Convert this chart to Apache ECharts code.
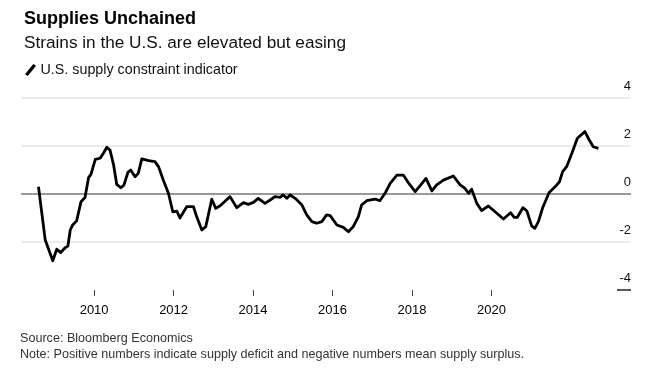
<!DOCTYPE html>
<html>
<head>
<meta charset="utf-8">
<script src="https://cdn.jsdelivr.net/npm/echarts@6/dist/echarts.min.js"></script>
<style>
html,body{margin:0;padding:0;background:#fff;}
#c{width:664px;height:379px;}
</style>
</head>
<body>
<div id="c"></div>
<script>
// Decimal-year dates and indicator values
const dates = [2008.60,2008.77,2008.96,2009.06,2009.16,2009.27,2009.34,2009.40,2009.46,2009.56,2009.67,2009.77,2009.86,2009.92,
2010.03,2010.15,2010.23,2010.32,2010.40,2010.49,2010.57,2010.67,2010.75,2010.85,2010.92,2011.03,2011.11,2011.20,2011.37,2011.53,2011.62,2011.74,2011.87,2011.98,
2012.08,2012.16,2012.33,2012.50,2012.58,2012.71,2012.81,2012.96,2013.06,2013.17,2013.28,2013.42,2013.59,2013.76,2013.88,
2014.01,2014.13,2014.30,2014.43,2014.55,2014.68,2014.76,2014.85,2014.93,2015.06,2015.23,2015.35,2015.48,2015.60,2015.73,2015.85,2015.94,
2016.11,2016.27,2016.40,2016.52,2016.65,2016.73,2016.86,2017.07,2017.19,2017.32,2017.45,2017.62,2017.78,2017.92,
2018.08,2018.22,2018.35,2018.50,2018.62,2018.79,2019.04,2019.21,2019.33,2019.42,2019.50,2019.63,2019.75,2019.92,
2020.09,2020.30,2020.48,2020.57,2020.65,2020.79,2020.89,2021.01,2021.09,2021.18,2021.29,2021.45,2021.60,2021.71,2021.79,2021.89,
2022.02,2022.16,2022.35,2022.46,2022.56,2022.69];
const values = [0.30,-1.92,-2.78,-2.30,-2.44,-2.24,-2.17,-1.50,-1.29,-1.12,-0.32,-0.15,0.68,0.82,
1.44,1.49,1.69,1.95,1.83,1.21,0.40,0.26,0.37,0.90,1.00,0.72,0.86,1.46,1.39,1.35,1.14,0.58,0.03,-0.74,
-0.71,-1.00,-0.53,-0.53,-0.94,-1.50,-1.36,-0.22,-0.60,-0.49,-0.32,-0.11,-0.57,-0.36,-0.43,
-0.35,-0.18,-0.39,-0.25,-0.11,-0.14,-0.04,-0.18,-0.04,-0.18,-0.46,-0.87,-1.15,-1.22,-1.15,-0.87,-0.90,
-1.29,-1.39,-1.57,-1.36,-0.94,-0.46,-0.28,-0.21,-0.28,0.03,0.44,0.79,0.79,0.44,
0.10,0.38,0.65,0.13,0.38,0.58,0.75,0.38,0.24,0.03,0.20,-0.39,-0.69,-0.50,
-0.74,-1.04,-0.78,-0.97,-0.97,-0.57,-0.71,-1.33,-1.43,-1.15,-0.56,0.06,0.30,0.51,0.93,1.14,
1.69,2.32,2.60,2.25,1.97,1.90];
const xTickYears = [2010,2012,2014,2016,2018,2020];
const yTicks = [-4,-2,0,2,4];

const seriesData = dates.map((d,i)=>[d, values[i]]);
const chart = echarts.init(document.getElementById('c'), null, {renderer:'canvas'});
const FONT = 'Liberation Sans, Arial, sans-serif';
chart.setOption({
  animation:false,
  backgroundColor:'#fff',
  title:{
    text:'Supplies Unchained',
    subtext:'Strains in the U.S. are elevated but easing',
    left:19, top:5, itemGap:7,
    textStyle:{fontFamily:FONT,fontSize:18,fontWeight:'bold',color:'#000'},
    subtextStyle:{fontFamily:FONT,fontSize:17.2,color:'#111'}
  },
  legend:{
    left:20, top:58, itemWidth:12, itemHeight:12, itemGap:6,
    icon:'path://M0,11 L9,0 L12,2 L3,13 Z',
    textStyle:{fontFamily:FONT,fontSize:14.3,color:'#111',padding:[0,0,0,-1]},
    data:[{name:'U.S. supply constraint indicator',itemStyle:{color:'#000'}}]
  },
  grid:{left:21,right:33,top:98,bottom:89,containLabel:false},
  xAxis:{
    type:'value', min:2008.16, max:2023.51,
    axisLine:{show:true,onZero:false,lineStyle:{color:'rgba(0,0,0,0)'}},
    axisTick:{show:true,length:6,customValues:xTickYears,lineStyle:{color:'#444',width:1}},
    axisLabel:{show:true,customValues:xTickYears,margin:14,fontFamily:FONT,fontSize:13,color:'#000',formatter:v=>String(v)},
    splitLine:{show:false}
  },
  yAxis:{
    type:'value', position:'right', min:-4, max:4, interval:2,
    axisLine:{show:false}, axisTick:{show:false},
    axisLabel:{inside:true,margin:0,verticalAlign:'bottom',padding:[0,0,5,0],fontFamily:FONT,fontSize:13,color:'#111'},
    splitLine:{show:true,lineStyle:{color:['rgba(0,0,0,0)','#e6e6e6','rgba(0,0,0,0)','#e6e6e6','#e6e6e6'],width:1.5}}
  },
  graphic:[{type:'line',shape:{x1:617,y1:290,x2:631,y2:290},style:{stroke:'#222',lineWidth:1.5}}],
  series:[{
    name:'U.S. supply constraint indicator',
    type:'line', data:seriesData, showSymbol:false, symbol:'none',
    lineStyle:{color:'#000',width:2.8,join:'round'},
    itemStyle:{color:'#000'},
    z:3,
    markLine:{silent:true,symbol:'none',label:{show:false},
      lineStyle:{color:'#999',width:2,type:'solid'},
      data:[{yAxis:0}], z:1}
  }]
});
</script>
<div style="position:absolute;left:20px;top:331px;font-family:'Liberation Sans',Arial,sans-serif;font-size:12.6px;color:#333;line-height:15.5px;">Source: Bloomberg Economics<br>Note: Positive numbers indicate supply deficit and negative numbers mean supply surplus.</div>
</body>
</html>
